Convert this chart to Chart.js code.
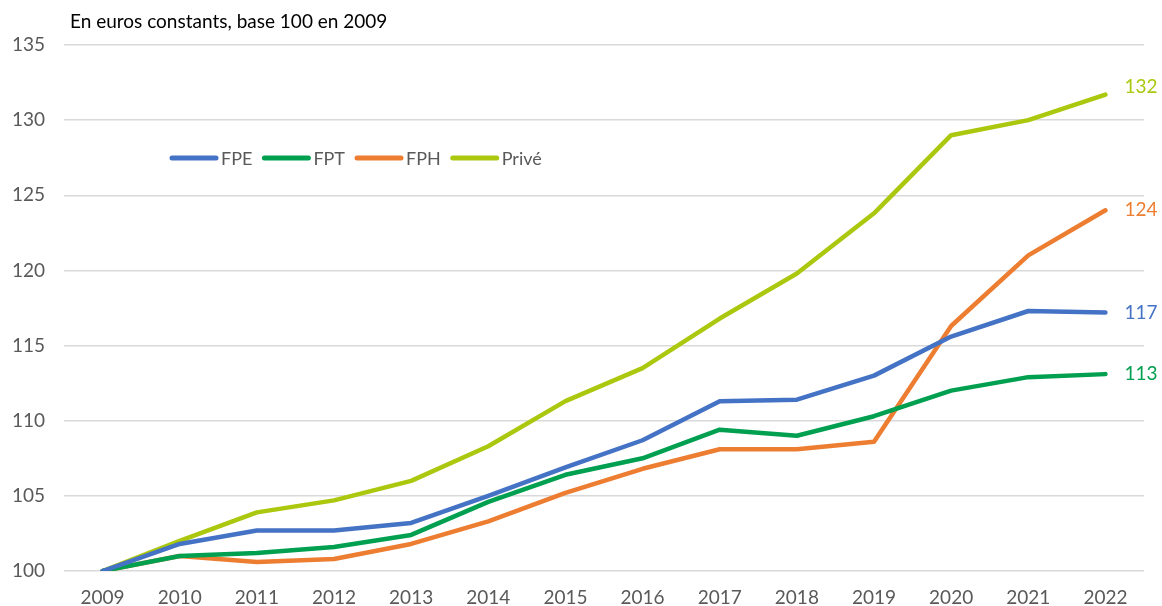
<!DOCTYPE html>
<html>
<head>
  <meta charset="utf-8">
  <title>Base 100 en 2009</title>
  <script src="https://cdn.jsdelivr.net/npm/chart.js"></script>
  <style>
    body { margin: 0; background: #fff; }
    #wrap { width: 1162px; height: 606px; position: relative; }
  </style>
</head>
<body>
  <div id="wrap"><canvas id="chart"></canvas></div>

  <script>
    const years = ['2009','2010','2011','2012','2013','2014','2015','2016','2017','2018','2019','2020','2021','2022'];
    const fpe   = [100, 101.8, 102.7, 102.7, 103.2, 105.0, 106.9, 108.7, 111.3, 111.4, 113.0, 115.6, 117.3, 117.2];
    const fpt   = [100, 101.0, 101.2, 101.6, 102.4, 104.6, 106.4, 107.5, 109.4, 109.0, 110.3, 112.0, 112.9, 113.1];
    const fph   = [100, 101.0, 100.6, 100.8, 101.8, 103.3, 105.2, 106.8, 108.1, 108.1, 108.6, 116.3, 121.0, 124.0];
    const prive = [100, 102.0, 103.9, 104.7, 106.0, 108.3, 111.3, 113.5, 116.8, 119.8, 123.8, 129.0, 130.0, 131.7];
    const endLabels = ['117', '113', '124', '132'];

    const font = "'Lato', 'Noto Sans', sans-serif";
    const grey = '#595959';

    // subtitle, legend inside the plot, value labels at line ends
    const extras = {
      id: 'extras',
      afterDraw(chart) {
        const c = chart.ctx;
        const area = chart.chartArea;
        c.save();
        c.fillStyle = '#000';
        c.font = '19px ' + font;
        c.textBaseline = 'middle';
        c.fillText('En euros constants, base 100 en 2009', area.left + 6, 22);

        // legend
        let x = 172;
        const y = 158;
        c.font = '18px ' + font;
        chart.data.datasets.forEach(ds => {
          c.strokeStyle = ds.borderColor;
          c.lineWidth = 5;
          c.lineCap = 'round';
          c.beginPath();
          c.moveTo(x, y);
          c.lineTo(x + 44, y);
          c.stroke();
          c.fillStyle = grey;
          c.fillText(ds.label, x + 49, y + 1);
          x += 49 + c.measureText(ds.label).width + 12;
        });

        // end labels (the top one sits a bit higher, like the original)
        c.font = '19px ' + font;
        chart.data.datasets.forEach((ds, i) => {
          const pts = chart.getDatasetMeta(i).data;
          const p = pts[pts.length - 1];
          const dy = i === 3 ? -8 : 0;
          c.fillStyle = ds.borderColor;
          c.fillText(endLabels[i], p.x + 19, p.y + dy);
        });
        c.restore();
      }
    };

    const mk = (label, data, color) => ({
      label, data,
      borderColor: color,
      backgroundColor: color,
      borderWidth: 4.5,
      pointRadius: 0,
      tension: 0,
      borderCapStyle: 'round',
      borderJoinStyle: 'round'
    });

    new Chart(document.getElementById('chart'), {
      type: 'line',
      data: {
        labels: years,
        datasets: [
          mk('FPE', fpe, '#4472C4'),
          mk('FPT', fpt, '#00A050'),
          mk('FPH', fph, '#ED7D31'),
          mk('Privé', prive, '#ABC80E')
        ]
      },
      options: {
        responsive: true,
        maintainAspectRatio: false,
        animation: false,
        layout: { padding: { top: 45, right: 18, left: 8, bottom: 0 } },
        plugins: {
          legend: { display: false },
          tooltip: { enabled: false }
        },
        scales: {
          x: {
            offset: true,
            grid: { display: false, drawTicks: false },
            border: { display: false },
            ticks: { color: grey, font: { family: font, size: 19 }, padding: 15 },
            afterFit: s => { s.height = 35; }
          },
          y: {
            min: 100, max: 135,
            ticks: { stepSize: 5, color: grey, font: { family: font, size: 19 }, padding: 19 },
            grid: { color: '#D9D9D9', lineWidth: 1.5, drawTicks: false },
            border: { display: false },
            afterFit: s => { s.width = 56; }
          }
        }
      },
      plugins: [extras]
    });
  </script>
</body>
</html>
